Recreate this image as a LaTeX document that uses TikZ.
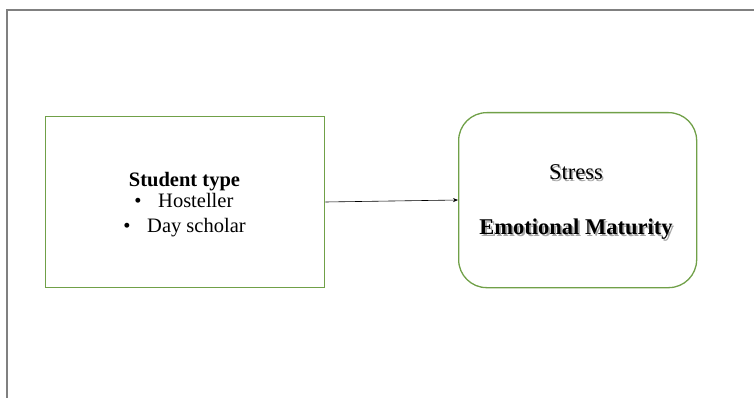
\documentclass[tikz,border=0pt]{standalone}
\usepackage{fontspec}
\setmainfont{Liberation Serif}
\usetikzlibrary{arrows.meta}
\definecolor{boxgreen}{RGB}{112,160,72}
\definecolor{framegray}{RGB}{128,128,128}
\tikzset{
  greenbox/.style={draw=boxgreen, line width=1.3pt},
  lbl/.style={inner sep=0pt, anchor=base, font=\fontsize{20.5}{22}\selectfont},
  rlbl/.style={inner sep=0pt, anchor=center, font=\fontsize{22.5}{24}\selectfont},
  shadowlbl/.style={rlbl, text=black!35},
}
\begin{document}
\begin{tikzpicture}[x=1pt,y=-1pt]
\useasboundingbox (0,0) rectangle (754,398);
\draw[framegray, line width=2pt] (7,399) -- (7,10) -- (755,10);
\node[greenbox, minimum width=279pt, minimum height=171pt, anchor=north west, inner sep=0pt] (st) at (45,116) {};
\node[greenbox, rounded corners=28pt, minimum width=238pt, minimum height=175pt, anchor=north west, inner sep=0pt] (out) at (458,112) {};
\node[lbl, font=\fontsize{20.5}{22}\selectfont\bfseries] (t1) at (184.5,186.5) {Student type};
\node[lbl] (b1) at (138,207) {\textbullet};
\node[lbl, anchor=base west] (h1) at (158,207) {Hosteller};
\node[lbl] (b2) at (127,232) {\textbullet};
\node[lbl, anchor=base west] (h2) at (147,232) {Day scholar};
\node[shadowlbl] (s0) at (577.5,174) {Stress};
\node[rlbl] (s1) at (576,172.5) {Stress};
\node[shadowlbl, font=\fontsize{22.5}{24}\selectfont\bfseries] (e0) at (577.8,231) {Emotional Maturity};
\node[rlbl, font=\fontsize{22.5}{24}\selectfont\bfseries] (e1) at (576,229) {Emotional Maturity};
\draw[-{Stealth[length=5pt,width=4pt]}, line width=0.6pt] (st.east |- 0,202) -- (out.west |- 0,200);
\end{tikzpicture}
\end{document}
